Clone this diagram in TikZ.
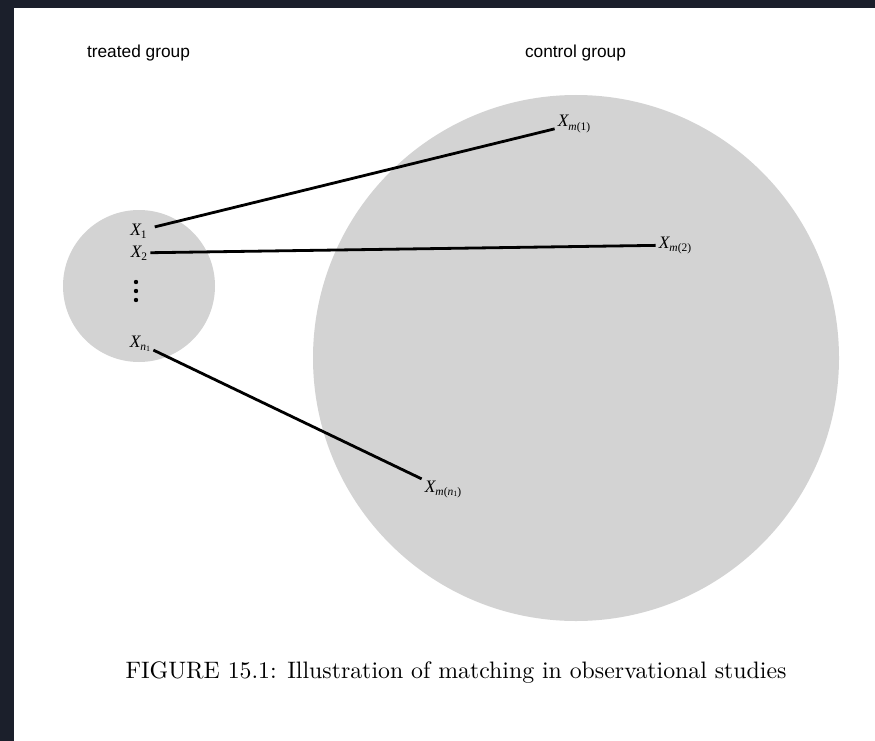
\documentclass[tikz,border=0pt]{standalone}
\usepackage{fontspec}
\newfontfamily\grpfont{Liberation Sans}
\newfontfamily\lblfont{Liberation Serif}
\newfontfamily\capfont{lmroman10-regular.otf}

\definecolor{frame}{RGB}{27,31,43}
\definecolor{disc}{RGB}{211,211,211}

% label X with a lowered subscript
\newcommand{\xlbl}[1]{{\itshape X}\raisebox{-0.4ex}{\fontsize{11.5}{12}\selectfont #1}}
\newcommand{\nsub}{{\itshape n}\raisebox{-0.3ex}{\fontsize{8}{9}\selectfont 1}}

\tikzset{
  grp/.style={font=\grpfont\fontsize{17.3}{20}\selectfont, anchor=base, inner sep=0pt},
  lab/.style={font=\lblfont\fontsize{17.5}{20}\selectfont, anchor=base, inner sep=3pt},
  link/.style={line width=2.8pt, black},
}

\begin{document}
\begin{tikzpicture}[x=1pt,y=-1pt]
    \useasboundingbox (0,0) rectangle (875,741);

    % Draw dark frame
    \fill[frame] (0,0) rectangle (875,8);
    \fill[frame] (0,0) rectangle (14,741);

    % Draw groups
    \fill[disc] (139,286) circle (76);
    \fill[disc] (576,358) circle (263);

    \node[grp] (treated) at (138.5,58) {treated group};
    \node[grp] (control) at (575.5,58) {control group};

    % Draw treated units
    \node[lab] (x1) at (138.5,235) {\xlbl{1}};
    \node[lab] (x2) at (139,257) {\xlbl{2}};
    \node[lab] (xn) at (140,347) {\xlbl{\nsub}};
    \foreach \y in {282, 291, 300} {
        \fill[black] (136,\y) circle (2.2);
      }

    % Draw matched controls
    \node[lab] (xm1) at (574,127) {\xlbl{{\itshape m}(1)}};
    \node[lab] (xm2) at (675,248) {\xlbl{{\itshape m}(2)}};
    \node[lab] (xmn) at (443,492) {\xlbl{{\itshape m}(\nsub)}};

    % Draw matches
    \draw[link, shorten <=5pt] (x1) -- (xm1);
    \draw[link] (x2) -- (xm2);
    \draw[link] (xn) -- (xmn);

    % Caption
    \node[font=\capfont\fontsize{23.8}{28}\selectfont, anchor=base, inner sep=0pt] (caption) at (456,678)
      {FIGURE 15.1: Illustration of matching in observational studies};
  \end{tikzpicture}
\end{document}
